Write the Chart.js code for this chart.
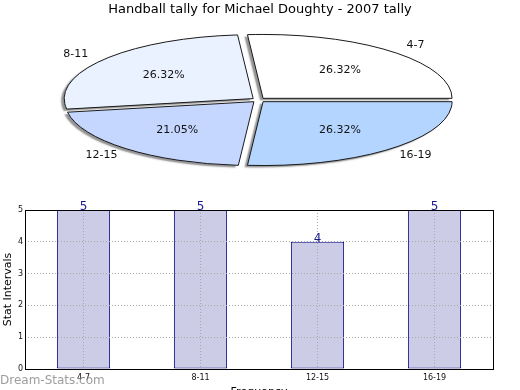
<!DOCTYPE html>
<html>
<head>
<meta charset="utf-8">
<script src="https://cdn.jsdelivr.net/npm/chart.js@4.4.0/dist/chart.umd.min.js"></script>
<style>
  html, body { margin: 0; padding: 0; background: #fff; }
  #wrap { position: relative; width: 520px; height: 390px; overflow: hidden; }
  canvas { position: absolute; left: 0; top: 0; }
</style>
</head>
<body>
<div id="wrap">
  <canvas id="bar" width="520" height="390"></canvas>
  <canvas id="pie" width="520" height="390"></canvas>
</div>
<script>
// ---- data ----
const categories = ['4-7', '8-11', '12-15', '16-19'];
const counts = [5, 5, 4, 5];
const pieColors = ['#ffffff', '#eaf1ff', '#c5d7ff', '#b3d5ff'];
const yTicks = [0, 1, 2, 3, 4, 5];
const chartTitle = 'Handball tally for Michael Doughty - 2007 tally';
const xTitle = 'Frequency';
const yTitle = 'Stat Intervals';
const watermark = 'Dream-Stats.com';

// ---- pie geometry (layout only) ----
const PIE_CX = 258.5, PIE_CY = 100, PIE_R = 189, PIE_RATIO = 0.338;
const PIE_OFFSET = 27;

const total = counts.reduce((a, b) => a + b, 0);
const pctLabels = counts.map(v => (v / total * 100).toFixed(2) + '%');

function ellipseTransform(ctx, a) {
  ctx.translate(PIE_CX, PIE_CY);
  ctx.scale(1, -PIE_RATIO);
  ctx.translate(-a.x, -a.y);
}

const ellipsePlugin = {
  id: 'ellipsePie',
  beforeDatasetsDraw(chart) {
    const ctx = chart.ctx;
    const a0 = chart.getDatasetMeta(0).data[0];
    ctx.save();
    ellipseTransform(ctx, a0);
    ctx.shadowColor = 'rgba(120,120,120,0.8)';
    ctx.shadowOffsetX = -3;
    ctx.shadowOffsetY = 2;
    ctx.shadowBlur = 1.5;
  },
  afterDatasetsDraw(chart) {
    const ctx = chart.ctx;
    ctx.restore();
    const meta = chart.getDatasetMeta(0);
    meta.data.forEach((a, i) => {
      const off = (a.options.offset || 0) / 4;
      const half = (a.startAngle + a.endAngle) / 2;
      ctx.save();
      ellipseTransform(ctx, a);
      ctx.translate(Math.cos(half) * off, Math.sin(half) * off);
      ctx.beginPath();
      ctx.moveTo(a.x, a.y);
      ctx.arc(a.x, a.y, a.outerRadius, a.startAngle, a.endAngle);
      ctx.closePath();
      ctx.restore();
      ctx.save();
      ctx.lineWidth = 1;
      ctx.strokeStyle = '#1a1a1a';
      ctx.stroke();
      ctx.restore();

      // labels
      const rx = a.outerRadius, ry = a.outerRadius * PIE_RATIO;
      const ox = Math.cos(half) * off, oy = -Math.sin(half) * off * PIE_RATIO;
      const c = Math.cos(half), s = Math.sin(half);
      ctx.save();
      ctx.font = '11px "DejaVu Sans"';
      ctx.fillStyle = '#111';
      ctx.textAlign = 'center';
      ctx.textBaseline = 'middle';
      const kIn = 0.6;
      ctx.fillText(pctLabels[i], PIE_CX + ox + rx * kIn * c, PIE_CY + oy - ry * kIn * s);
      const kx = 1.19, ky = 1.13;
      ctx.fillText(categories[i], PIE_CX + ox + rx * kx * c, PIE_CY + oy - ry * ky * s);
      ctx.restore();
    });
  }
};

new Chart(document.getElementById('pie'), {
  type: 'pie',
  data: {
    labels: categories,
    datasets: [{
      data: counts,
      backgroundColor: pieColors,
      borderWidth: 0,
      offset: PIE_OFFSET,
      radius: PIE_R,
      clip: false
    }]
  },
  options: {
    responsive: false,
    animation: false,
    devicePixelRatio: 1,
    rotation: 90,
    events: [],
    plugins: {
      legend: { display: false },
      tooltip: { enabled: false },
      title: {
        display: true,
        text: chartTitle,
        color: '#000',
        font: { family: '"DejaVu Sans"', size: 13, weight: 'normal' },
        padding: { top: 2, bottom: 4 }
      }
    }
  },
  plugins: [ellipsePlugin]
});

// ---- bar chart ----
const barPlugin = {
  id: 'barExtras',
  afterDraw(chart) {
    const ctx = chart.ctx;
    const ca = chart.chartArea;
    ctx.save();
    ctx.strokeStyle = '#000';
    ctx.lineWidth = 1;
    ctx.strokeRect(Math.round(ca.left) + 0.5, Math.round(ca.top) + 0.5,
      Math.round(ca.right - ca.left), Math.round(ca.bottom - ca.top));
    // value labels
    const meta = chart.getDatasetMeta(0);
    ctx.font = '12px "DejaVu Sans"';
    ctx.fillStyle = '#1a1a8c';
    ctx.textAlign = 'center';
    ctx.textBaseline = 'bottom';
    meta.data.forEach((b, i) => {
      ctx.fillText(String(counts[i]), b.x, b.y + 3);
    });
    // watermark
    ctx.font = '12px "DejaVu Sans"';
    ctx.fillStyle = 'rgba(140,140,140,0.85)';
    ctx.textAlign = 'left';
    ctx.textBaseline = 'middle';
    ctx.fillText(watermark, 0, 381);
    ctx.restore();
  }
};

new Chart(document.getElementById('bar'), {
  type: 'bar',
  data: {
    labels: categories,
    datasets: [{
      data: counts,
      backgroundColor: '#ccccE6',
      borderColor: '#000080',
      borderWidth: 1,
      borderSkipped: false,
      barPercentage: 0.455,
      categoryPercentage: 1
    }]
  },
  options: {
    responsive: false,
    animation: false,
    devicePixelRatio: 1,
    events: [],
    layout: { padding: { left: 0, top: 210, right: 27, bottom: 0 } },
    plugins: {
      legend: { display: false },
      tooltip: { enabled: false },
      title: { display: false }
    },
    scales: {
      x: {
        offset: true,
        grid: {
          z: 1,
          offset: false,
          display: true,
          drawTicks: false,
          color: '#a8a8a8',
          lineWidth: 1
        },
        border: { display: false, dash: [1, 2] },
        ticks: {
          color: '#111',
          font: { family: '"DejaVu Sans"', size: 8 },
          padding: 4,
          maxRotation: 0
        },
        title: {
          display: true,
          text: xTitle,
          color: '#000',
          font: { family: '"DejaVu Sans"', size: 11 },
          padding: { top: 0, bottom: -9 }
        },
        afterFit(scale) { scale.height = 21; }
      },
      y: {
        min: 0,
        max: 5,
        afterBuildTicks(scale) { scale.ticks = yTicks.map(v => ({ value: v })); },
        grid: {
          z: 1,
          display: true,
          drawTicks: false,
          color: '#a8a8a8',
          lineWidth: 1
        },
        border: { display: false, dash: [1, 2] },
        ticks: {
          color: '#111',
          font: { family: '"DejaVu Sans"', size: 8 },
          padding: 2
        },
        title: {
          display: true,
          text: yTitle,
          color: '#000',
          font: { family: '"DejaVu Sans"', size: 11 },
          padding: { top: 2, bottom: 0 }
        },
        afterFit(scale) { scale.width = 25; }
      }
    }
  },
  plugins: [barPlugin]
});
</script>
</body>
</html>
